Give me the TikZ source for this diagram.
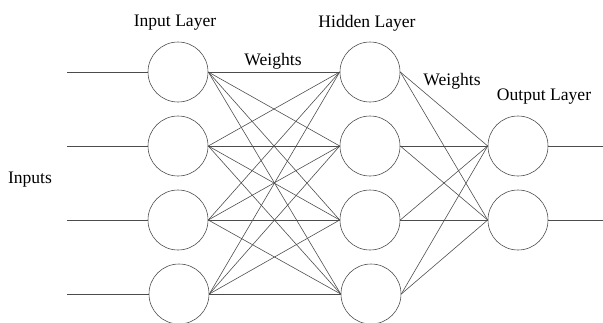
\documentclass[tikz,border=0pt]{standalone}
\usepackage{fontspec}
\setmainfont{Liberation Serif}
\usepackage{tikz}
\usetikzlibrary{positioning}

\begin{document}
\begin{tikzpicture}[x=0.03cm, y=-0.03cm,
    font=\fontsize{15}{18}\selectfont,
    neuron/.style={draw=black!70, circle, minimum size=60*0.03cm,
                   inner sep=0pt, line width=0.5pt},
    wire/.style={draw=black!70, line width=0.5pt}]

  \useasboundingbox (0,0) rectangle (603,322);

  % Layer titles
  \node (tin)  at (175,23) {Input Layer};
  \node (thid) at (367,23) {Hidden Layer};
  \node (tout) at (544,97) {Output Layer};
  \node (w1)   at (273,61) {Weights};
  \node (w2)   at (452,81) {Weights};
  \node (inp)  at (30,180) {Inputs};

  % Input layer
  \node[neuron] (i1) at (178,72)  {};
  \node[neuron] (i2) at (178,146) {};
  \node[neuron] (i3) at (178,220) {};
  \node[neuron] (i4) at (179,294) {};

  % Hidden layer
  \node[neuron] (h1) at (370,72)  {};
  \node[neuron] (h2) at (370,146) {};
  \node[neuron] (h3) at (370,220) {};
  \node[neuron] (h4) at (371,294) {};

  % Output layer
  \node[neuron] (o1) at (518,146) {};
  \node[neuron] (o2) at (518,220) {};

  % Free ends
  \coordinate (a1) at (67,72);
  \coordinate (a2) at (67,146);
  \coordinate (a3) at (67,220);
  \coordinate (a4) at (67,294);
  \coordinate (b1) at (603,146);
  \coordinate (b2) at (603,220);

  \foreach \k in {1,...,4}
    \draw[wire] (a\k) -- (i\k.west);

  \foreach \i in {1,...,4}
    \foreach \j in {1,...,4}
      \draw[wire] (i\i.east) -- (h\j.west);

  \foreach \i in {1,...,4}
    \foreach \j in {1,2}
      \draw[wire] (h\i.east) -- (o\j.west);

  \draw[wire] (o1.east) -- (b1);
  \draw[wire] (o2.east) -- (b2);

\end{tikzpicture}
\end{document}
